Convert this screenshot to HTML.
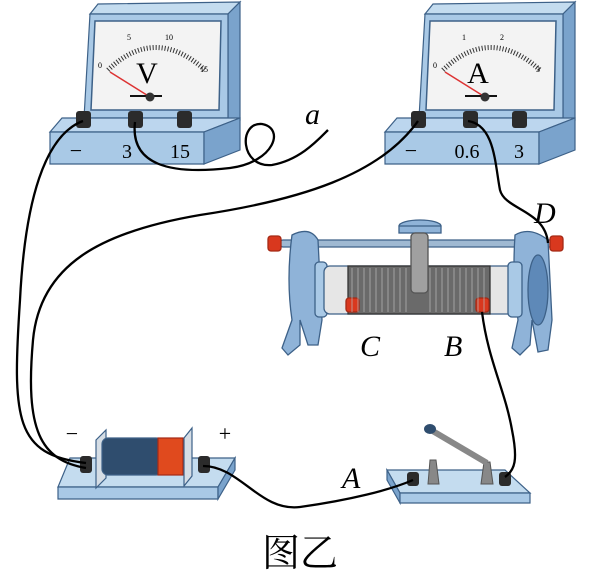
<!DOCTYPE html>
<html><head><meta charset="utf-8"><style>
html,body{margin:0;padding:0;background:#fff;}
svg{display:block;}
.s{font-family:"Liberation Serif","Noto Serif CJK SC",serif;}
</style></head><body>
<svg width="600" height="584" viewBox="0 0 600 584" xmlns="http://www.w3.org/2000/svg">
<defs>
<g id="meter">
  <!-- back/top -->
  <polygon points="98,4 240,2 228,14 90,14" fill="#c4dcef" stroke="#3d6188" stroke-width="1.2"/>
  <polygon points="240,2 240,120 228,118 228,14" fill="#7aa3cc" stroke="#3d6188" stroke-width="1.2"/>
  <polygon points="90,14 228,14 228,118 84,118" fill="#a9c9e6" stroke="#3d6188" stroke-width="1.2"/>
  <polygon points="95,21 221,21 219,110 91,110" fill="#f3f3f3" stroke="#3d6188" stroke-width="1.5"/>
  <!-- base -->
  <polygon points="62,118 240,118 204,132 50,132" fill="#bcd6ee" stroke="#3d6188" stroke-width="1.2"/>
  <polygon points="50,132 204,132 204,164 50,164" fill="#a9c9e6" stroke="#3d6188" stroke-width="1.2"/>
  <polygon points="204,132 240,118 240,150 204,164" fill="#7aa3cc" stroke="#3d6188" stroke-width="1.2"/>
  <!-- knobs -->
  <rect x="76" y="111" width="15" height="17" rx="3" fill="#2b2b2b"/>
  <rect x="128" y="111" width="15" height="17" rx="3" fill="#2b2b2b"/>
  <rect x="177" y="111" width="15" height="17" rx="3" fill="#2b2b2b"/>
  <!-- scale arc -->
  <path d="M108,70 Q155,25 205,70" fill="none" stroke="#333" stroke-width="5" stroke-dasharray="1 2"/>
  <line x1="110" y1="72" x2="150" y2="97" stroke="#d33" stroke-width="1.5"/>
  <line x1="130" y1="96" x2="162" y2="96" stroke="#111" stroke-width="2"/>
  <circle cx="150" cy="97" r="4.5" fill="#333"/>
</g>
</defs>

<use href="#meter"/>
<text x="147" y="83" class="s" font-size="30" text-anchor="middle">V</text>
<text x="98" y="68" class="s" font-size="8">0</text>
<text x="127" y="40" class="s" font-size="8">5</text>
<text x="165" y="40" class="s" font-size="8">10</text>
<text x="200" y="72" class="s" font-size="8">15</text>
<text x="76" y="158" class="s" font-size="22" text-anchor="middle">−</text>
<text x="127" y="158" class="s" font-size="20" text-anchor="middle">3</text>
<text x="180" y="158" class="s" font-size="20" text-anchor="middle">15</text>

<g transform="translate(335,0)"><use href="#meter"/></g>
<text x="478" y="83" class="s" font-size="30" text-anchor="middle">A</text>
<text x="433" y="68" class="s" font-size="8">0</text>
<text x="462" y="40" class="s" font-size="8">1</text>
<text x="500" y="40" class="s" font-size="8">2</text>
<text x="536" y="72" class="s" font-size="8">3</text>
<text x="411" y="158" class="s" font-size="22" text-anchor="middle">−</text>
<text x="467" y="158" class="s" font-size="20" text-anchor="middle">0.6</text>
<text x="519" y="158" class="s" font-size="20" text-anchor="middle">3</text>

<!-- rheostat -->
<g stroke="#3d6188" stroke-width="1.3">
  <rect x="280" y="240" width="275" height="7" rx="3" fill="#9fb9d2"/>
  <rect x="268" y="236" width="13" height="15" rx="3" fill="#d9381e" stroke="#a52a16"/>
  <rect x="550" y="236" width="13" height="15" rx="3" fill="#d9381e" stroke="#a52a16"/>
  <path d="M292,235 Q310,226 318,240 L322,320 L318,345 L308,345 L300,320 L300,345 L288,355 L282,348 L292,320 Q286,280 292,235Z" fill="#8fb3d8"/>
  <rect x="315" y="262" width="12" height="55" rx="4" fill="#a9c9e6"/>
  <rect x="324" y="266" width="190" height="48" rx="6" fill="#e6e6e6"/>
  <rect x="348" y="266" width="142" height="48" fill="#6a6a6a" stroke="#333"/>
  <path d="M515,235 Q530,226 548,240 L552,320 L548,350 L538,352 L532,320 L530,345 L520,355 L512,348 L518,320 Q512,280 515,235Z" fill="#8fb3d8"/>
  <ellipse cx="538" cy="290" rx="10" ry="35" fill="#5e89b8"/>
  <rect x="508" y="262" width="14" height="55" rx="4" fill="#a9c9e6"/>
  <ellipse cx="420" cy="226" rx="21" ry="6" fill="#8fb3d8"/>
  <rect x="399" y="226" width="42" height="7" fill="#8fb3d8"/>
  <rect x="411" y="233" width="17" height="60" rx="4" fill="#a0a0a0" stroke="#555"/>
  <rect x="346" y="298" width="13" height="14" rx="3" fill="#d9381e" stroke="#a52a16"/>
  <rect x="476" y="298" width="13" height="14" rx="3" fill="#d9381e" stroke="#a52a16"/>
</g>
<g stroke="#555" stroke-width="1" opacity="0.7">
  <path d="M352,268v44M358,268v44M364,268v44M370,268v44M376,268v44M382,268v44M388,268v44M394,268v44M400,268v44M406,268v44M430,268v44M436,268v44M442,268v44M448,268v44M454,268v44M460,268v44M466,268v44M472,268v44M478,268v44M484,268v44" stroke="#bbb"/>
</g>
<text x="360" y="356" class="s" font-size="30" font-style="italic">C</text>
<text x="444" y="356" class="s" font-size="30" font-style="italic">B</text>
<text x="534" y="223" class="s" font-size="30" font-style="italic">D</text>

<!-- battery -->
<g stroke="#3d6188" stroke-width="1.2">
  <polygon points="70,458 235,458 218,487 58,487" fill="#c4dcef"/>
  <polygon points="58,487 218,487 218,499 58,499" fill="#a9c9e6"/>
  <polygon points="218,487 235,458 235,470 218,499" fill="#7aa3cc"/>
  <polygon points="96,440 106,430 106,478 96,488" fill="#d5dde5"/>
  <rect x="102" y="438" width="60" height="37" rx="6" fill="#2f4d6e"/>
  <rect x="158" y="438" width="25" height="37" fill="#e04a1e" stroke="#a52a16"/>
  <polygon points="184,438 192,428 192,476 184,486" fill="#d5dde5"/>
</g>
<rect x="80" y="456" width="12" height="17" rx="3" fill="#2b2b2b"/>
<rect x="198" y="456" width="12" height="17" rx="3" fill="#2b2b2b"/>
<text x="72" y="441" class="s" font-size="22" text-anchor="middle">−</text>
<text x="225" y="441" class="s" font-size="22" text-anchor="middle">+</text>

<!-- switch -->
<g stroke="#3d6188" stroke-width="1.2">
  <polygon points="387,470 505,470 530,493 400,493" fill="#c4dcef"/>
  <polygon points="387,470 400,493 400,503 387,480" fill="#7aa3cc"/>
  <polygon points="400,493 530,493 530,503 400,503" fill="#a9c9e6"/>
</g>
<polygon points="428,484 430,460 436,460 439,484" fill="#888" stroke="#555"/>
<polygon points="481,484 484,462 490,462 493,484" fill="#888" stroke="#555"/>
<line x1="487" y1="463" x2="431" y2="430" stroke="#888" stroke-width="6"/>
<ellipse cx="430" cy="429" rx="6" ry="5" fill="#2f4d6e"/>
<rect x="407" y="472" width="12" height="14" rx="3" fill="#2b2b2b"/>
<rect x="499" y="472" width="12" height="14" rx="3" fill="#2b2b2b"/>
<text x="342" y="488" class="s" font-size="30" font-style="italic">A</text>

<!-- wires -->
<g fill="none" stroke="#000" stroke-width="2.3">
  <path d="M83,121 C45,135 25,200 20,300 C12,420 15,455 86,463"/>
  <path d="M418,121 C380,175 300,200 200,215 C100,232 40,265 33,340 C25,430 40,460 86,468"/>
  <path d="M135,122 C130,165 170,175 230,168 C275,162 285,128 262,124 C238,122 240,168 272,165 C300,160 318,140 328,130"/>
  <path d="M468,121 C495,125 495,165 500,190 C505,210 545,210 548,243"/>
  <path d="M482,312 C488,360 505,390 512,430 C518,460 515,470 505,477"/>
  <path d="M203,466 C240,466 260,512 300,507 C350,500 390,490 413,480"/>
</g>
<text x="305" y="124" class="s" font-size="30" font-style="italic">a</text>

<text x="300" y="566" class="s" font-size="38" text-anchor="middle">图乙</text>
</svg>
</body></html>
